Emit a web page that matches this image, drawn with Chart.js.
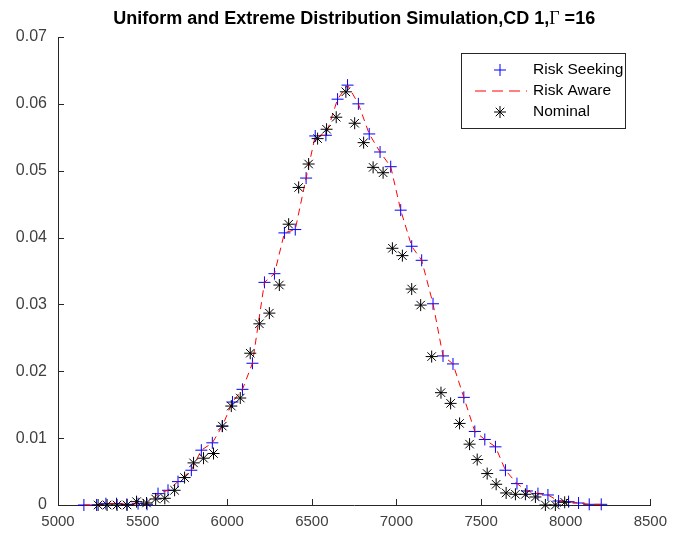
<!DOCTYPE html>
<html>
<head>
<meta charset="utf-8">
<script src="https://cdn.jsdelivr.net/npm/chart.js@4"></script>
<style>
  html, body { margin: 0; padding: 0; background: #fff; }
  #wrap { width: 675px; height: 537px; }
</style>
</head>
<body>
<div id="wrap"><canvas id="chart"></canvas></div>
<script>
// values
const seekX = [5153, 5228, 5283, 5346, 5407, 5473, 5526, 5591, 5650, 5709, 5788, 5847, 5912, 5971, 6031, 6090, 6149, 6220, 6279, 6338, 6402, 6466, 6520, 6583, 6652, 6711, 6775, 6839, 6903, 6966, 7025, 7090, 7149, 7216, 7275, 7334, 7398, 7463, 7522, 7585, 7644, 7712, 7771, 7836, 7895, 7958, 8017, 8076, 8139, 8210];
const seekY = [0, 0, 0.0002, 0.0002, 0.0001, 0.0002, 0.0001, 0.0017, 0.0022, 0.0035, 0.0052, 0.0082, 0.0093, 0.0118, 0.0154, 0.0173, 0.0212, 0.0333, 0.0346, 0.0407, 0.0412, 0.0489, 0.0552, 0.0553, 0.0607, 0.0628, 0.0600, 0.0555, 0.0528, 0.0506, 0.0441, 0.0387, 0.0366, 0.0301, 0.0223, 0.0211, 0.0161, 0.0110, 0.0098, 0.0087, 0.0052, 0.0032, 0.0021, 0.0017, 0.0015, 0.0006, 0.0005, 0.0003, 0.0001, 0.0001];

const awareX = [5153, 5228, 5283, 5346, 5407, 5473, 5526, 5591, 5650, 5709, 5788, 5847, 5912, 5971, 6031, 6090, 6149, 6220, 6279, 6338, 6402, 6466, 6520, 6583, 6652, 6711, 6775, 6839, 6903, 6966, 7025, 7090, 7149, 7216, 7275, 7334, 7398, 7463, 7522, 7585, 7644, 7712, 7771, 7836, 7895, 7958, 8017, 8076, 8139, 8210];
const awareY = [0, 0, 0.0002, 0.0002, 0.0001, 0.0002, 0.0001, 0.0017, 0.0022, 0.0035, 0.0052, 0.0082, 0.0093, 0.0118, 0.0154, 0.0173, 0.0212, 0.0333, 0.0346, 0.0407, 0.0412, 0.0489, 0.0552, 0.0553, 0.0607, 0.0628, 0.0600, 0.0555, 0.0528, 0.0506, 0.0441, 0.0387, 0.0366, 0.0301, 0.0223, 0.0211, 0.0161, 0.0110, 0.0098, 0.0087, 0.0052, 0.0032, 0.0021, 0.0017, 0.0015, 0.0006, 0.0005, 0.0003, 0.0001, 0.0001];

const nomX = [5237, 5290, 5349, 5408, 5464, 5523, 5577, 5631, 5689, 5748, 5801, 5860, 5919, 5971, 6024, 6077, 6136, 6190, 6249, 6308, 6363, 6422, 6481, 6534, 6587, 6644, 6701, 6753, 6806, 6862, 6921, 6976, 7035, 7090, 7143, 7208, 7263, 7320, 7373, 7432, 7477, 7536, 7589, 7648, 7703, 7762, 7821, 7880, 7939, 7994];
const nomY = [0, 0, 0, 0, 0.0005, 0.0003, 0.0009, 0.0010, 0.0022, 0.0041, 0.0063, 0.0070, 0.0077, 0.0118, 0.0148, 0.0160, 0.0227, 0.0271, 0.0287, 0.0329, 0.0420, 0.0475, 0.0510, 0.0548, 0.0562, 0.0580, 0.0618, 0.0571, 0.0542, 0.0505, 0.0497, 0.0384, 0.0373, 0.0323, 0.0299, 0.0222, 0.0168, 0.0152, 0.0122, 0.0091, 0.0068, 0.0047, 0.0031, 0.0018, 0.0016, 0.0016, 0.0012, 0, 0, 0.0004];

const seriesNames = ['Risk Seeking', 'Risk Aware', 'Nominal'];
const xTicks = [5000, 5500, 6000, 6500, 7000, 7500, 8000, 8500];
const yTicks = [0, 0.01, 0.02, 0.03, 0.04, 0.05, 0.06, 0.07];

const axisColor = '#262626';
const fontFamily = '"Liberation Sans", Arial, Helvetica, sans-serif';

function toPoints(xs, ys) {
    return xs.map((x, i) => ({ x: x, y: ys[i] }));
}

// title with the serif Gamma like matlab's tex interpreter
const titlePlugin = {
    id: 'matlabTitle',
    afterDraw(chart) {
        const ctx = chart.ctx;
        const area = chart.chartArea;
        const parts = [
            { text: 'Uniform and Extreme Distribution Simulation,CD 1,', font: 'bold 18px ' + fontFamily },
            { text: '\u0393', font: '18px "Liberation Serif", "Times New Roman", serif' },
            { text: ' =16', font: 'bold 18px ' + fontFamily }
        ];
        ctx.save();
        let total = 0;
        parts.forEach(p => { ctx.font = p.font; p.w = ctx.measureText(p.text).width; total += p.w; });
        let x = (area.left + area.right) / 2 - total / 2;
        ctx.fillStyle = '#000';
        ctx.textBaseline = 'alphabetic';
        parts.forEach(p => {
            ctx.font = p.font;
            ctx.fillText(p.text, x, 24);
            x += p.w;
        });
        ctx.restore();
    }
};

// ticks pointing into the plot, as matlab draws them
const innerTicks = {
    id: 'innerTicks',
    afterDatasetsDraw(chart) {
        const ctx = chart.ctx;
        const xs = chart.scales.x, ys = chart.scales.y;
        const area = chart.chartArea;
        ctx.save();
        ctx.strokeStyle = axisColor;
        ctx.lineWidth = 1;
        ctx.beginPath();
        xTicks.forEach(v => {
            const px = Math.round(xs.getPixelForValue(v)) + 0.5;
            ctx.moveTo(px, area.bottom);
            ctx.lineTo(px, area.bottom - 6);
        });
        yTicks.forEach(v => {
            const py = Math.round(ys.getPixelForValue(v)) + 0.5;
            ctx.moveTo(area.left, py);
            ctx.lineTo(area.left + 6, py);
        });
        ctx.stroke();
        ctx.restore();
    }
};

// boxed legend inside the axes, top right
const boxLegend = {
    id: 'boxLegend',
    afterDraw(chart) {
        const ctx = chart.ctx;
        const left = 461, top = 53, w = 164, h = 75;
        ctx.save();
        ctx.fillStyle = '#fff';
        ctx.fillRect(left, top, w, h);
        ctx.strokeStyle = '#262626';
        ctx.lineWidth = 1;
        ctx.strokeRect(left + 0.5, top + 0.5, w, h);

        const rows = [70, 91, 112];
        const mx = 500;
        // plus
        ctx.strokeStyle = '#0000ff';
        ctx.beginPath();
        ctx.moveTo(mx - 6, rows[0]); ctx.lineTo(mx + 6, rows[0]);
        ctx.moveTo(mx, rows[0] - 6); ctx.lineTo(mx, rows[0] + 6);
        ctx.stroke();
        // dashed line
        ctx.strokeStyle = '#ff0000';
        ctx.setLineDash([11, 6]);
        ctx.beginPath();
        ctx.moveTo(475, rows[1]); ctx.lineTo(527, rows[1]);
        ctx.stroke();
        ctx.setLineDash([]);
        // star
        ctx.strokeStyle = '#000';
        ctx.beginPath();
        const r = 6, d = r * 0.707;
        ctx.moveTo(mx - r, rows[2]); ctx.lineTo(mx + r, rows[2]);
        ctx.moveTo(mx, rows[2] - r); ctx.lineTo(mx, rows[2] + r);
        ctx.moveTo(mx - d, rows[2] - d); ctx.lineTo(mx + d, rows[2] + d);
        ctx.moveTo(mx - d, rows[2] + d); ctx.lineTo(mx + d, rows[2] - d);
        ctx.stroke();

        ctx.fillStyle = '#000';
        ctx.font = '15.5px ' + fontFamily;
        ctx.textBaseline = 'middle';
        seriesNames.forEach((name, i) => ctx.fillText(name, 533, rows[i]));
        ctx.restore();
    }
};

document.addEventListener('DOMContentLoaded', function () {
    const ctx = document.getElementById('chart').getContext('2d');

    new Chart(ctx, {
        type: 'scatter',
        data: {
            datasets: [
                {
                    label: seriesNames[0],
                    data: toPoints(seekX, seekY),
                    showLine: false,
                    pointStyle: 'cross',
                    pointRadius: 6,
                    pointBorderWidth: 1,
                    borderColor: '#0000ff',
                    backgroundColor: '#0000ff',
                    clip: false,
                    order: 3
                },
                {
                    label: seriesNames[1],
                    data: toPoints(awareX, awareY),
                    showLine: true,
                    borderColor: '#ff0000',
                    borderWidth: 1,
                    borderDash: [7, 5],
                    pointRadius: 0,
                    tension: 0,
                    clip: false,
                    order: 2
                },
                {
                    label: seriesNames[2],
                    data: toPoints(nomX, nomY),
                    showLine: false,
                    pointStyle: 'star',
                    pointRadius: 6,
                    pointBorderWidth: 1,
                    borderColor: '#000000',
                    backgroundColor: '#000000',
                    clip: false,
                    order: 1
                }
            ]
        },
        options: {
            responsive: true,
            maintainAspectRatio: false,
            animation: false,
            layout: {
                padding: { top: 37, right: 23, left: 0, bottom: 0 }
            },
            scales: {
                x: {
                    type: 'linear',
                    min: 5000,
                    max: 8500,
                    afterBuildTicks: function (scale) {
                        scale.ticks = xTicks.map(v => ({ value: v }));
                    },
                    afterFit: function (scale) { scale.height = 32; },
                    grid: { display: false, drawTicks: false },
                    border: { display: true, color: axisColor, width: 1 },
                    ticks: {
                        color: '#404040',
                        font: { family: fontFamily, size: 15 },
                        padding: 8,
                        maxRotation: 0,
                        callback: v => String(v)
                    }
                },
                y: {
                    type: 'linear',
                    min: 0,
                    max: 0.07,
                    afterBuildTicks: function (scale) {
                        scale.ticks = yTicks.map(v => ({ value: v }));
                    },
                    afterFit: function (scale) { scale.width = 58; },
                    grid: { display: false, drawTicks: false },
                    border: { display: true, color: axisColor, width: 1 },
                    ticks: {
                        color: '#404040',
                        font: { family: fontFamily, size: 16 },
                        padding: 11,
                        callback: v => String(+v.toFixed(2))
                    }
                }
            },
            plugins: {
                legend: { display: false },
                title: { display: false },
                tooltip: { enabled: false }
            }
        },
        plugins: [innerTicks, titlePlugin, boxLegend]
    });
});
</script>
</body>
</html>
